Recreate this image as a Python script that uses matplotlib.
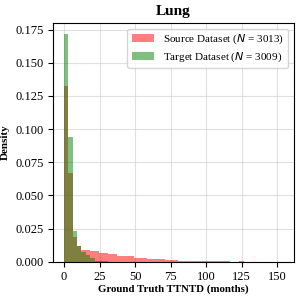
import numpy as np
import matplotlib
matplotlib.use("Agg")
import matplotlib.pyplot as plt

plt.rcParams['font.family'] = ['Liberation Serif', 'DejaVu Serif']
plt.rcParams['mathtext.fontset'] = 'dejavusans'

# histogram bins (months) shared by both datasets
bin_width = 3.08
n_bins = 50

# density per bin
source_density = [0.1323, 0.0668, 0.0184, 0.0118, 0.0085, 0.0085, 0.0080, 0.0078,
                  0.0065, 0.0063, 0.0060, 0.0055, 0.0045, 0.0045, 0.0042, 0.0040,
                  0.0030, 0.0028, 0.0027, 0.0024, 0.0021, 0.0019, 0.0017, 0.0014,
                  0.0011, 0.0009, 0.0007, 0.0006, 0.0005, 0.0004, 0.0004, 0.0003,
                  0.0003, 0.0003, 0.0002, 0.0002, 0.0002, 0.0002, 0.0001, 0.0001,
                  0.0002, 0.0001, 0.0001, 0.0001, 0.0000, 0.0001, 0.0000, 0.0001,
                  0.0000, 0.0001]
target_density = [0.1715, 0.0939, 0.0231, 0.0118, 0.0070, 0.0050, 0.0025, 0.0008,
                  0.0004, 0.0002, 0.0001, 0.0001]

source_label = 'Source Dataset ($N$ = 3013)'
target_label = 'Target Dataset ($N$ = 3009)'

edges = np.arange(n_bins + 1) * bin_width

fig = plt.figure(figsize=(3.02, 3.01), dpi=100)
ax = fig.add_axes([0.1755, 0.1306, 0.798, 0.793])

ax.bar(edges[:len(source_density)], source_density, width=bin_width, align='edge',
       color='red', alpha=0.5, label=source_label, linewidth=0)
ax.bar(edges[:len(target_density)], target_density, width=bin_width, align='edge',
       color='green', alpha=0.5, label=target_label, linewidth=0)

ax.set_xticks([0, 25, 50, 75, 100, 125, 150])
ax.set_yticks(np.arange(0, 0.176, 0.025))
ax.set_xlim(-0.05 * edges[-1], 1.05 * edges[-1])
ax.set_ylim(0, 0.1715 * 1.05)
ax.tick_params(labelsize=9, length=3.5, pad=3)
ax.grid(True, color='#cccccc', alpha=0.6, linewidth=0.8)
ax.set_axisbelow(True)

ax.set_title('Lung', fontsize=11, fontweight='bold', pad=6)
ax.set_xlabel('Ground Truth TTNTD (months)', fontsize=7.8, fontweight='bold', labelpad=1)
ax.set_ylabel('Density', fontsize=8, fontweight='bold')
ax.legend(loc='upper right', fontsize=8, handlelength=2.0, labelspacing=0.35)

fig.savefig('out.png', dpi=100)
